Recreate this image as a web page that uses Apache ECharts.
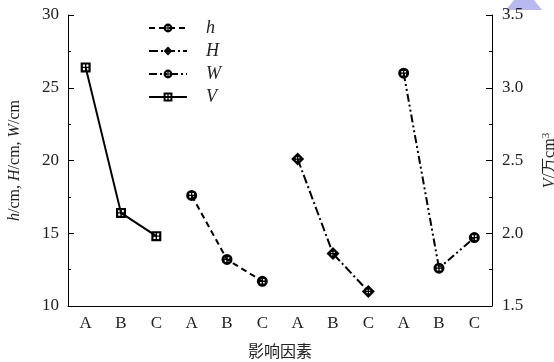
<!DOCTYPE html>
<html>
<head>
<meta charset="utf-8">
<script src="https://cdn.jsdelivr.net/npm/echarts@6/dist/echarts.min.js"></script>
<style>html,body{margin:0;padding:0;background:#fff;}#c{width:554px;height:362px;}</style>
</head>
<body>
<div id="c"></div>
<script>
const categories = ['A','B','C','A','B','C','A','B','C','A','B','C'];
const hValues = [null,null,null,17.6,13.2,11.7,null,null,null,null,null,null];
const HValues = [null,null,null,null,null,null,20.1,13.6,11.0,null,null,null];
const WValues = [null,null,null,null,null,null,null,null,null,26.0,12.6,14.7];
const VValues = [3.14,2.14,1.98,null,null,null,null,null,null,null,null,null];
const leftTicks = {min:10, max:30, interval:5};
const rightTicks = {min:1.5, max:3.5, interval:0.5};

function holes(a,b,c,d){
  const r=(x1,y1,x2,y2)=>`M${x1} ${y1}L${x1} ${y2}L${x2} ${y2}L${x2} ${y1}Z`;
  return r(a,a,b,b)+r(c,a,d,b)+r(a,c,b,d)+r(c,c,d,d);
}
const circleCross = 'path://M5 0A5 5 0 1 1 5 10A5 5 0 1 1 5 0Z' + holes(2.9,4.4,5.6,7.1);
const diamondCross = 'path://M5 0L10 5L5 10L0 5Z' + holes(3.6,4.5,5.5,6.4);
const squareCross = 'path://M0 0L10 0L10 10L0 10Z' + holes(2.2,4.3,5.7,7.8);

const serif = 'Liberation Serif';
const chart = echarts.init(document.getElementById('c'), null, {renderer:'canvas'});
const axisLineStyle = {color:'#000', width:1};
function lineSeries(name, data, symbol, size, dash, yIdx){
  return {
    name, type:'line', data, yAxisIndex:yIdx, xAxisIndex:0,
    symbol, symbolSize:size, showSymbol:true, connectNulls:false,
    lineStyle:{color:'#000', width:2, type:dash},
    itemStyle:{color:'#000', borderWidth:0},
    emphasis:{disabled:true}, animation:false, z:3
  };
}
chart.setOption({
  animation:false,
  backgroundColor:'#fff',
  grid:{left:68, right:62, top:15, bottom:56, containLabel:false, outerBoundsMode:'none'},
  legend:{
    data:['h','H','W','V'], orient:'vertical', left:143, top:14,
    itemWidth:38, itemHeight:11, itemGap:5,
    textStyle:{fontFamily:serif, fontStyle:'italic', fontSize:18, color:'#222', padding:[0,0,0,14]},
    selectedMode:false
  },
  xAxis:[{
    type:'category', data:categories, position:'bottom', boundaryGap:true,
    name:'影响因素', nameLocation:'middle', nameGap:37,
    nameTextStyle:{fontFamily:'Noto Sans CJK SC', fontSize:16, color:'#222'},
    axisLine:{lineStyle:axisLineStyle},
    axisTick:{inside:true, alignWithLabel:true, length:6, lineStyle:axisLineStyle},
    axisLabel:{fontFamily:serif, fontSize:17, color:'#222', margin:9},
    splitLine:{show:false}
  },{
    type:'category', data:categories, position:'bottom', boundaryGap:true,
    axisLine:{show:false},
    axisTick:{inside:true, length:3, lineStyle:axisLineStyle},
    axisLabel:{show:false}, splitLine:{show:false}
  }],
  yAxis:[{
    type:'value', position:'left', min:leftTicks.min, max:leftTicks.max, interval:leftTicks.interval,
    name:'{i|h}/cm, {i|H}/cm, {i|W}/cm', nameLocation:'middle', nameGap:45, nameRotate:90,
    nameTextStyle:{fontFamily:serif, fontSize:16, color:'#222', rich:{i:{fontFamily:serif, fontStyle:'italic', fontSize:16, color:'#222'}}},
    axisLine:{show:true, lineStyle:axisLineStyle},
    axisTick:{show:true, inside:true, length:6, lineStyle:axisLineStyle},
    minorTick:{show:true, splitNumber:2, length:3, lineStyle:axisLineStyle},
    axisLabel:{fontFamily:serif, fontSize:17, color:'#222', margin:9},
    splitLine:{show:false}
  },{
    type:'value', position:'right', min:rightTicks.min, max:rightTicks.max, interval:rightTicks.interval,
    name:'{i|V}/万cm{s|3}', nameLocation:'middle', nameGap:49, nameRotate:90,
    nameTextStyle:{fontFamily:serif, fontSize:16, color:'#222', rich:{i:{fontFamily:serif, fontStyle:'italic', fontSize:16, color:'#222'}, s:{fontFamily:serif, fontSize:11, color:'#222', verticalAlign:'top', padding:[0,0,6,0]}}},
    axisLine:{show:true, lineStyle:axisLineStyle},
    axisTick:{show:true, inside:true, length:6, lineStyle:axisLineStyle},
    minorTick:{show:true, splitNumber:2, length:3, lineStyle:axisLineStyle},
    axisLabel:{fontFamily:serif, fontSize:17, color:'#222', margin:10, formatter:v=>v.toFixed(1)},
    splitLine:{show:false}
  }],
  graphic:[{
    type:'polygon', shape:{points:[[514,0],[534,0],[542,10],[506,10]]},
    style:{fill:'#b9b9f2'}, z:-1
  }],
  series:[
    lineSeries('h', hValues, circleCross, 11, [6,4], 0),
    lineSeries('H', HValues, diamondCross, 13, [9,3,2,3], 0),
    lineSeries('W', WValues, circleCross, 11, [8,3,2,3,2,3], 0),
    lineSeries('V', VValues, squareCross, 10, 'solid', 1)
  ]
});
</script>
</body>
</html>
